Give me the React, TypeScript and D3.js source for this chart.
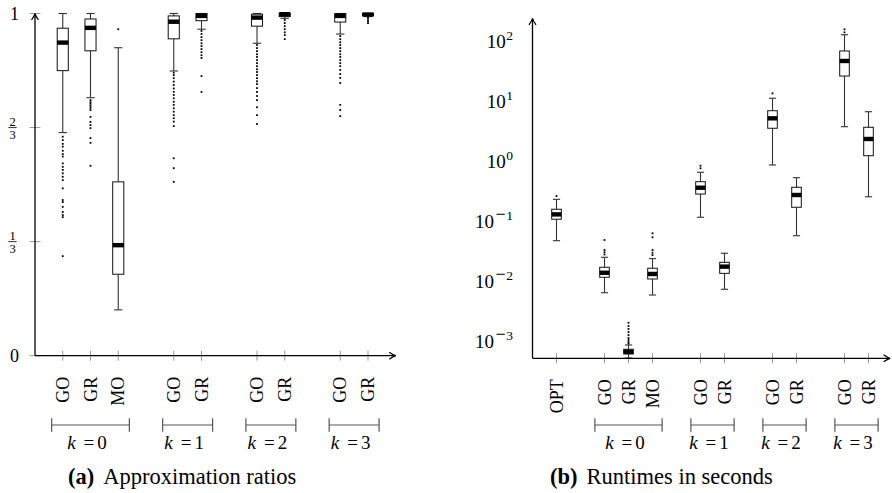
import React from "react"
import * as d3 from "d3"

// (a) Approximation ratios
const ratioGroups = ["0", "1", "2", "3"]
const ratioAlgos = [["GO", "GR", "MO"], ["GO", "GR"], ["GO", "GR"], ["GO", "GR"]]
const ratioLow = [0.652, 0.754, 0.134, 0.832, 0.954, 0.913, 0.986, 0.94, 0.991]
const ratioQ1 = [0.833, 0.891, 0.238, 0.926, 0.979, 0.963, 0.991, 0.975, 0.994]
const ratioMed = [0.915, 0.958, 0.323, 0.976, 0.993, 0.988, 0.998, 0.993, 0.997]
const ratioQ3 = [0.957, 0.984, 0.508, 0.993, 1, 0.998, 1, 1, 1]
const ratioHigh = [1, 1, 0.9, 1, 1, 1, 1, 1, 1]
const ratioOutliers = [
  [0.64, 0.63, 0.619, 0.611, 0.599, 0.589, 0.582, 0.562, 0.552, 0.543, 0.533, 0.523, 0.513, 0.489, 0.455, 0.449, 0.435, 0.42, 0.411, 0.405, 0.291],
  [0.747, 0.741, 0.736, 0.73, 0.724, 0.718, 0.698, 0.683, 0.674, 0.665, 0.636, 0.622, 0.555],
  [0.954],
  [0.827, 0.82, 0.811, 0.801, 0.791, 0.781, 0.771, 0.762, 0.752, 0.742, 0.733, 0.723, 0.713, 0.703, 0.694, 0.684, 0.671, 0.577, 0.548, 0.508],
  [0.949, 0.94, 0.931, 0.922, 0.913, 0.905, 0.896, 0.887, 0.878, 0.87, 0.817, 0.771],
  [0.908, 0.899, 0.89, 0.881, 0.873, 0.864, 0.855, 0.846, 0.837, 0.829, 0.82, 0.811, 0.802, 0.794, 0.782, 0.771, 0.759, 0.747, 0.726, 0.703, 0.677],
  [0.981, 0.972, 0.963, 0.954, 0.945, 0.937, 0.925],
  [0.934, 0.925, 0.916, 0.908, 0.899, 0.89, 0.881, 0.873, 0.864, 0.855, 0.846, 0.835, 0.823, 0.812, 0.797, 0.733, 0.718, 0.7],
  [0.989, 0.984, 0.978, 0.972],
]
const ratioTicks = [0, 1 / 3, 2 / 3, 1]
const ratioTickLabels = [["0"], ["1", "3"], ["2", "3"], ["1"]]

// (b) Runtimes in seconds
const runtimeGroups = ["", "0", "1", "2", "3"]
const runtimeAlgos = [["OPT"], ["GO", "GR", "MO"], ["GO", "GR"], ["GO", "GR"], ["GO", "GR"]]
const runtimeLow = [0.0452, 0.00614, 0.0005, 0.00562, 0.111, 0.007, 0.826, 0.0547, 3.59, 0.244]
const runtimeQ1 = [0.103, 0.0111, 0.000584, 0.0104, 0.271, 0.0129, 3.38, 0.163, 25.1, 1.18]
const runtimeMed = [0.124, 0.0132, 0.000638, 0.0126, 0.345, 0.0167, 4.95, 0.261, 44.7, 2.24]
const runtimeQ3 = [0.151, 0.0163, 0.0007, 0.0157, 0.435, 0.0197, 6.63, 0.351, 65.6, 3.51]
const runtimeHigh = [0.221, 0.0239, 0.000825, 0.0227, 0.624, 0.0279, 10.7, 0.507, 122.5, 6.38]
const runtimeOutliers = [
  [0.251],
  [0.0464, 0.0316, 0.029, 0.0266],
  [0.00194, 0.00171, 0.00153, 0.00136, 0.00121, 0.00108, 0.001, 0.000926, 0.00087],
  [0.06, 0.0515, 0.0316, 0.0285, 0.0261],
  [0.804, 0.728],
  [],
  [12.9],
  [],
  [150.6, 134],
  [],
]
const runtimeExponents = [-3, -2, -1, 0, 1, 2]

const serif = "'Liberation Serif', 'DejaVu Serif', serif"

function layout(algos: string[][]) {
  const items: { label: string; slot: number }[] = []
  const spans: { first: number; last: number }[] = []
  let s = 1
  algos.forEach(g => {
    const first = s
    g.forEach(label => {
      items.push({ label, slot: s })
      s++
    })
    spans.push({ first, last: s - 1 })
    s++
  })
  return { items, spans }
}

function upArrow(x: number, t: number) {
  return `M${x - 3.5},${t + 6.5} Q${x - 0.6},${t + 2.5} ${x},${t} Q${x + 0.6},${t + 2.5} ${x + 3.5},${t + 6.5}`
}
function rightArrow(t: number, y: number) {
  return `M${t - 6.5},${y - 3.5} Q${t - 2.5},${y - 0.6} ${t},${y} Q${t - 2.5},${y + 0.6} ${t - 6.5},${y + 3.5}`
}

function Panel(props: any) {
  const { algos, groups, low, q1, med, q3, high, outliers, y, originX, unit, endSlot, axisY, topY, caption, captionX } = props
  const { items, spans } = layout(algos)
  const x = d3.scaleLinear().domain([0, endSlot]).range([originX, originX + unit * endSlot])
  const bw = unit * 0.4
  const cw = unit * 0.3
  return (
    <g>
      {/* x ticks */}
      {items.map((d, i) => (
        <line key={`xt${i}`} x1={x(d.slot)} x2={x(d.slot)} y1={axisY - 5} y2={axisY + 5} stroke="#999" strokeWidth={1} />
      ))}
      {/* boxes */}
      {items.map((d, i) => {
        const cx = x(d.slot)
        return (
          <g key={`b${i}`}>
            <line x1={cx} x2={cx} y1={y(q3[i])} y2={y(high[i])} stroke="#333" strokeWidth={1.1} />
            <line x1={cx} x2={cx} y1={y(q1[i])} y2={y(low[i])} stroke="#333" strokeWidth={1.1} />
            <line x1={cx - cw / 2} x2={cx + cw / 2} y1={y(high[i])} y2={y(high[i])} stroke="#333" strokeWidth={1.1} />
            <line x1={cx - cw / 2} x2={cx + cw / 2} y1={y(low[i])} y2={y(low[i])} stroke="#333" strokeWidth={1.1} />
            <rect x={cx - bw / 2} y={y(q3[i])} width={bw} height={y(q1[i]) - y(q3[i])} fill="white" stroke="#111" strokeWidth={1} />
            <rect x={cx - bw / 2} y={y(med[i]) - 2.2} width={bw} height={4.4} fill="black" />
            {outliers[i].map((o: number, j: number) => (
              <rect key={j} x={cx - 0.9} y={y(o) - 0.9} width={1.8} height={1.8} fill="black" />
            ))}
          </g>
        )
      })}
      {/* axes */}
      <line x1={originX} x2={originX} y1={axisY} y2={topY + 0.5} stroke="black" strokeWidth={1.3} />
      <path d={upArrow(originX, topY)} fill="none" stroke="black" strokeWidth={1.2} />
      <line x1={originX} x2={x(endSlot) - 0.5} y1={axisY} y2={axisY} stroke="black" strokeWidth={1.3} />
      <path d={rightArrow(x(endSlot), axisY)} fill="none" stroke="black" strokeWidth={1.2} />
      {/* rotated category labels */}
      {items.map((d, i) => (
        <text
          key={`xl${i}`}
          transform={`translate(${x(d.slot) + 6},${axisY + 21}) rotate(-90)`}
          textAnchor="end"
          fontFamily={serif}
          fontSize={18}
        >
          {d.label}
        </text>
      ))}
      {/* group brackets */}
      {spans.map((s, i) =>
        groups[i] === "" ? null : (
          <g key={`gr${i}`} stroke="#555" strokeWidth={1.2}>
            <line x1={x(s.first - 0.4)} x2={x(s.last + 0.4)} y1={425} y2={425} />
            <line x1={x(s.first - 0.4)} x2={x(s.first - 0.4)} y1={418.3} y2={431.7} />
            <line x1={x(s.last + 0.4)} x2={x(s.last + 0.4)} y1={418.3} y2={431.7} />
          </g>
        )
      )}
      {spans.map((s, i) =>
        groups[i] === "" ? null : (
          <text key={`gl${i}`} x={(x(s.first) + x(s.last)) / 2 - 3.5} y={449} textAnchor="middle" fontFamily={serif} fontSize={19}>
            <tspan fontFamily={serif} fontStyle="italic">k</tspan>
            <tspan fontFamily={serif} dx={8}>=</tspan>
            <tspan fontFamily={serif} dx={3}>{groups[i]}</tspan>
          </text>
        )
      )}
      <text x={captionX} y={484} fontFamily={serif} fontSize={22.5}>
        <tspan fontFamily={serif} fontWeight="bold">{caption[0]}</tspan>
        <tspan fontFamily={serif} dx={9}>{caption[1]}</tspan>
      </text>
    </g>
  )
}

export default function App() {
  const yRatio = d3.scaleLinear().domain([0, 1]).range([355.7, 13.5])
  const yRuntime = d3.scaleLog().domain([1e-3, 1e2]).range([340, 40])
  return (
    <svg width={892} height={493} style={{ position: "absolute", left: 0, top: 0, background: "white" }}>
      <rect width={892} height={493} fill="white" />
      {/* left y ticks */}
      {ratioTicks.map((t, i) => (
        <g key={`ly${i}`}>
          <line x1={29.5} x2={40.5} y1={yRatio(t)} y2={yRatio(t)} stroke="#999" strokeWidth={1} />
          {ratioTickLabels[i].length === 1 ? (
            <text x={19} y={yRatio(t) + 6} textAnchor="end" fontFamily={serif} fontSize={18}>
              {ratioTickLabels[i][0]}
            </text>
          ) : (
            <g fontFamily={serif} fontSize={12.5} textAnchor="middle">
              <text x={12.5} y={yRatio(t) - 2}>{ratioTickLabels[i][0]}</text>
              <line x1={8.3} x2={16.7} y1={yRatio(t)} y2={yRatio(t)} stroke="black" strokeWidth={0.8} />
              <text x={12.5} y={yRatio(t) + 11.5}>{ratioTickLabels[i][1]}</text>
            </g>
          )}
        </g>
      ))}
      <Panel
        algos={ratioAlgos}
        groups={ratioGroups}
        low={ratioLow}
        q1={ratioQ1}
        med={ratioMed}
        q3={ratioQ3}
        high={ratioHigh}
        outliers={ratioOutliers}
        y={yRatio}
        originX={35}
        unit={27.75}
        endSlot={13}
        axisY={355.7}
        topY={13.5}
        caption={["(a)", "Approximation ratios"]}
        captionX={68}
      />
      {/* right y labels */}
      {runtimeExponents.map(e => (
        <text key={`ry${e}`} x={513} y={yRuntime(Math.pow(10, e)) + 8} textAnchor="end" fontFamily={serif} fontSize={19}>
          10
          {e < 0 ? (
            <tspan fontFamily={serif} dy={-8} dx={1.5} fontSize={18}>
              {"\u2212"}
            </tspan>
          ) : null}
          <tspan fontFamily={serif} dy={e < 0 ? 0 : -8} dx={e < 0 ? 0.5 : 0.5} fontSize={13.5}>
            {Math.abs(e)}
          </tspan>
        </text>
      ))}
      <Panel
        algos={runtimeAlgos}
        groups={runtimeGroups}
        low={runtimeLow}
        q1={runtimeQ1}
        med={runtimeMed}
        q3={runtimeQ3}
        high={runtimeHigh}
        outliers={runtimeOutliers}
        y={yRuntime}
        originX={532.5}
        unit={24}
        endSlot={14.9}
        axisY={358.3}
        topY={18.3}
        caption={["(b)", "Runtimes in seconds"]}
        captionX={550}
      />
    </svg>
  )
}
